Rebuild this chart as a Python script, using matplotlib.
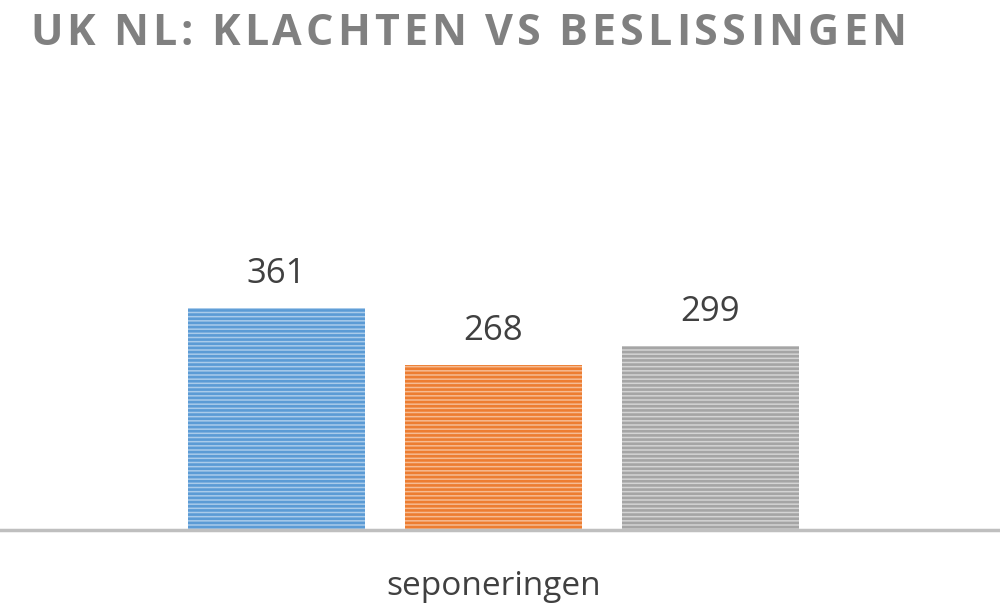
import numpy as np
import matplotlib
matplotlib.use("Agg")
import matplotlib.pyplot as plt

# chart data
title = "UK NL: KLACHTEN VS BESLISSINGEN"
categories = ["seponeringen"]
series_values = [361, 268, 299]
face_colors = ["#a9cbea", "#f6bb92", "#d4d4d4"]
stripe_colors = ["#5b9bd5", "#ed7d31", "#a5a5a5"]

plt.rcParams["font.family"] = ["Open Sans", "DejaVu Sans"]
plt.rcParams["hatch.linewidth"] = 1.9

fig = plt.figure(figsize=(10, 6.14), dpi=100)
ax = fig.add_axes([0, 84 / 614, 1, 430 / 614])

pitch = 217.0  # px between bar centres
width = 177.0 / pitch
center = 493.5
offsets = np.arange(len(series_values)) - (len(series_values) - 1) / 2

for i, (val, fc, sc) in enumerate(zip(series_values, face_colors, stripe_colors)):
    ax.bar(offsets[i], val, width=width, color=fc, edgecolor=sc,
           linewidth=0, hatch="----")
    ax.text(offsets[i], val + 27, str(val), ha="center", va="bottom",
            fontsize=25, color="#404040")

ax.set_xlim(-center / pitch, (1000 - center) / pitch)
ax.set_ylim(0, 430 / 0.616)

for side in ["top", "left", "right"]:
    ax.spines[side].set_visible(False)
ax.spines["bottom"].set_color("#bfbfbf")
ax.spines["bottom"].set_linewidth(2.5)
ax.set_yticks([])
ax.set_xticks([0])
ax.set_xticklabels(categories, fontsize=24, color="#404040")
ax.tick_params(axis="x", length=0, pad=29)


def spaced_text(x_px, y_px, s, spacing, **kw):
    r = fig.canvas.get_renderer()
    x = x_px
    for ch in s:
        if ch == " ":
            x += kw.get("fontsize", 12) * 0.45
            continue
        t = fig.text(x / 1000, 1 - y_px / 614, ch, va="baseline", **kw)
        x += t.get_window_extent(r).width + spacing


spaced_text(30, 45, title, 4.1, fontsize=31, fontweight="bold", color="#808080")

fig.savefig("out.png", dpi=100)
